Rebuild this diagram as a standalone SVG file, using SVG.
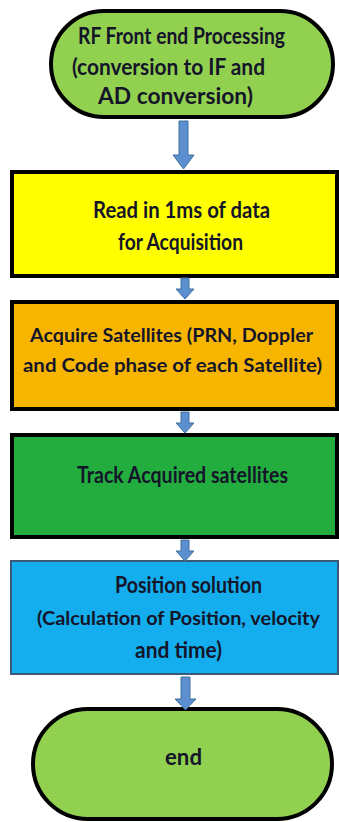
<svg xmlns="http://www.w3.org/2000/svg" width="339" height="822" viewBox="0 0 339 822">
<style>
.t{font-family:Lato,"Open Sans","Liberation Sans",sans-serif;font-weight:700;font-size:22px;fill:#15152a}
.s{font-size:19.5px}
.b{stroke:#000;stroke-width:4}
.arr{fill:#5b8fd0;stroke:#41719c;stroke-width:1}
</style>
<rect width="339" height="822" fill="#fff"/>
<g id="n1">
<rect class="b" x="51" y="11" width="282" height="106" rx="53" fill="#92d050"/>
<text class="t" x="78" y="44" textLength="207" lengthAdjust="spacingAndGlyphs">RF Front end Processing</text>
<text class="t" x="72" y="75" textLength="193" lengthAdjust="spacingAndGlyphs">(conversion  to IF and</text>
<text class="t" x="98" y="104" textLength="155" lengthAdjust="spacingAndGlyphs">AD conversion)</text>
</g>
<g id="n2">
<rect class="b" x="12" y="172" width="325" height="104" fill="#ffff00"/>
<text class="t" x="93" y="218" textLength="177" lengthAdjust="spacingAndGlyphs">Read in  1ms of data</text>
<text class="t" x="118" y="250" textLength="125" lengthAdjust="spacingAndGlyphs">for Acquisition</text>
</g>
<g id="n3">
<rect class="b" x="12" y="302" width="325" height="107" fill="#f7b500"/>
<text class="t s" x="30" y="342" textLength="283" lengthAdjust="spacingAndGlyphs">Acquire Satellites (PRN, Doppler</text>
<text class="t s" x="23" y="372" textLength="299" lengthAdjust="spacingAndGlyphs">and Code phase of each Satellite)</text>
</g>
<g id="n4">
<rect class="b" x="12" y="435" width="325" height="102" fill="#22ad3e"/>
<text class="t" x="77" y="483" textLength="211" lengthAdjust="spacingAndGlyphs">Track Acquired  satellites</text>
</g>
<g id="n5">
<rect x="11" y="561" width="327" height="113" fill="#14aeee" stroke="#3c5a78" stroke-width="2"/>
<text class="t" x="115" y="593" textLength="147" lengthAdjust="spacingAndGlyphs">Position  solution</text>
<text class="t s" x="37" y="625" textLength="283" lengthAdjust="spacingAndGlyphs">(Calculation of Position, velocity</text>
<text class="t" x="135" y="658" textLength="87" lengthAdjust="spacingAndGlyphs">and time)</text>
</g>
<g id="n6">
<rect class="b" x="33" y="709" width="299" height="110" rx="55" fill="#92d050"/>
<text class="t" x="165" y="765" textLength="37" lengthAdjust="spacingAndGlyphs">end</text>
</g>
<g id="connectors">
<polygon class="arr" points="179,121 188,121 188,155 194,155 183.5,169 173,155 179,155"/>
<polygon class="arr" points="181,278 189,278 189,289 194,289 185,299 176,289 181,289"/>
<polygon class="arr" points="181,412 189,412 189,423 194,423 185,433 176,423 181,423"/>
<polygon class="arr" points="181,540 189,540 189,551 194,551 185,561 176,551 181,551"/>
<polygon class="arr" points="181,677 190,677 190,699 196,699 185.5,710 175,699 181,699"/>
</g>
</svg>
